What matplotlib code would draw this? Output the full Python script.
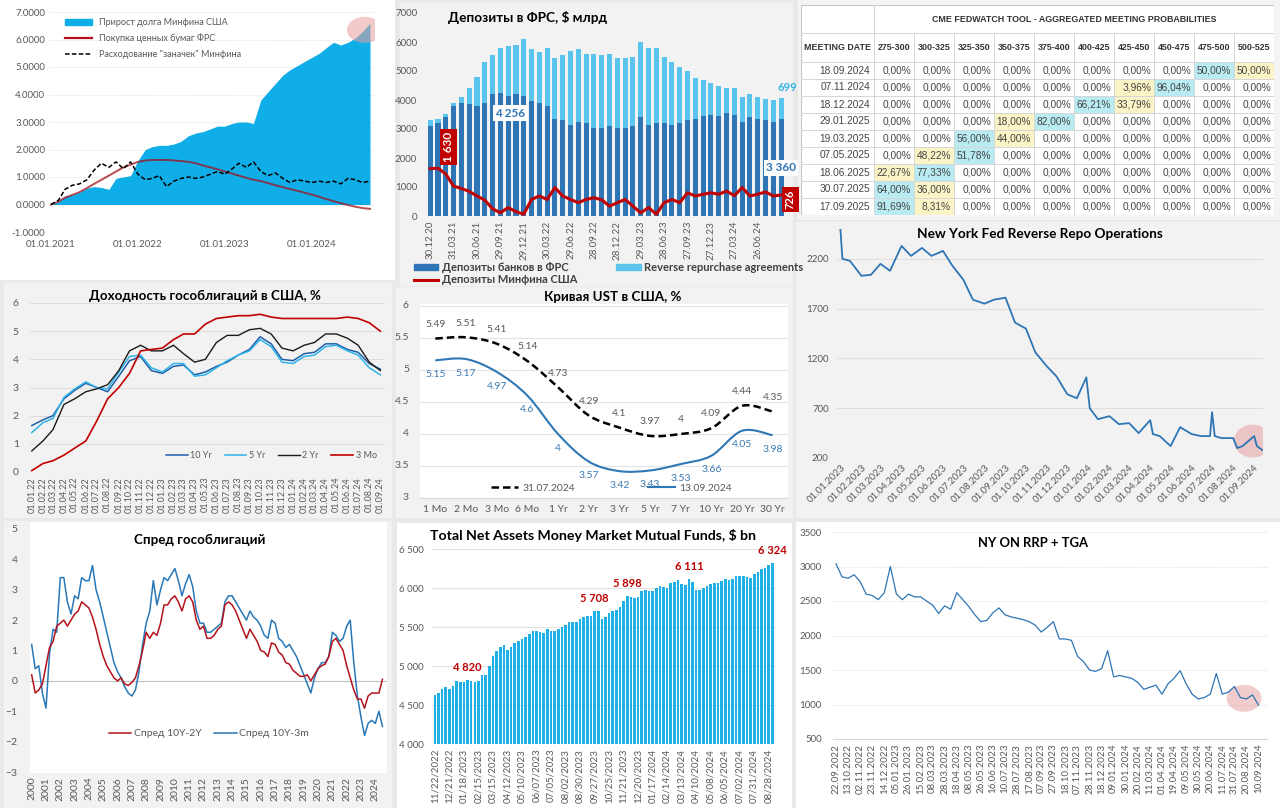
import numpy as np
import pandas as pd
import matplotlib
matplotlib.use('Agg')
import matplotlib.pyplot as plt
import matplotlib.dates as mdates
import matplotlib.transforms as mtransforms
from matplotlib.patches import Rectangle, Ellipse, Patch, PathPatch
from matplotlib.path import Path
from matplotlib.lines import Line2D
from matplotlib.ticker import FuncFormatter

# ---------------- data ----------------
# 1. debt / Fed purchases / TGA, monthly Jan 2021 - Sep 2024
debt_growth = [0.0, 0.1, 0.3, 0.35, 0.45, 0.6, 0.65, 0.62, 0.55, 0.95, 1.0, 1.05,
               1.6, 2.0, 2.1, 2.15, 2.15, 2.2, 2.3, 2.5, 2.6, 2.65, 2.75, 2.85,
               2.85, 2.95, 3.0, 3.0, 2.95, 3.8, 4.1, 4.4, 4.7, 4.9, 5.05, 5.2,
               5.35, 5.5, 5.7, 5.9, 5.8, 5.9, 6.05, 6.3, 6.6]
fed_purchases = [0.0, 0.1, 0.25, 0.35, 0.45, 0.6, 0.75, 0.9, 1.05, 1.2, 1.35, 1.45,
                 1.55, 1.6, 1.62, 1.62, 1.62, 1.6, 1.58, 1.55, 1.5, 1.42, 1.35, 1.28,
                 1.2, 1.12, 1.05, 0.97, 0.9, 0.85, 0.78, 0.7, 0.63, 0.56, 0.5, 0.43,
                 0.36, 0.28, 0.2, 0.12, 0.05, -0.02, -0.08, -0.13, -0.16]
tga_spending = [0.0, 0.15, 0.55, 0.7, 0.75, 0.9, 1.25, 1.5, 1.35, 1.55, 1.3, 1.55,
                1.1, 0.9, 0.95, 1.05, 0.65, 0.85, 0.95, 1.0, 0.95, 1.0, 1.1, 1.2,
                1.1, 1.3, 1.5, 1.35, 1.55, 1.2, 1.05, 1.15, 0.95, 0.8, 0.9, 0.85,
                0.8, 0.85, 0.8, 0.85, 0.75, 0.95, 0.9, 0.8, 0.85]

# 2. deposits at the Fed, monthly Dec 2020 - Sep 2024, $ bn
fed_labels = ['30.12.20', '31.03.21', '30.06.21', '29.09.21', '29.12.21', '30.03.22',
              '29.06.22', '28.09.22', '28.12.22', '29.03.23', '28.06.23', '27.09.23',
              '27.12.23', '27.03.24', '26.06.24']
bank_deposits = [3100, 3200, 3400, 3800, 3900, 3850, 3800, 3900, 4200, 4256, 4150, 4200, 4150,
                 3950, 3900, 3800, 3350, 3300, 3150, 3250, 3200, 3050, 3050, 3100, 3050,
                 3050, 3100, 3400, 3150, 3200, 3200, 3150, 3200, 3300, 3350, 3450, 3500,
                 3450, 3550, 3500, 3250, 3400, 3350, 3300, 3250, 3360]
rrp_deposits = [200, 150, 100, 100, 200, 550, 1000, 1400, 1350, 1550, 1700, 1700, 1950,
                1800, 1750, 2000, 2100, 2250, 2550, 2500, 2400, 2550, 2500, 2500, 2400,
                2400, 2400, 2600, 2650, 2600, 2300, 2150, 1950, 1700, 1400, 1250, 1100,
                1050, 850, 900, 850, 800, 750, 750, 750, 699]
tga_deposits = [1630, 1650, 1450, 1030, 950, 850, 690, 550, 250, 110, 290, 150, 60,
                570, 690, 570, 980, 690, 570, 460, 570, 630, 560, 340, 460,
                570, 340, 110, 290, 60, 460, 570, 460, 800, 690, 750, 800,
                750, 860, 700, 980, 690, 750, 830, 690, 726]

# 3. CME FedWatch
meeting_dates = ['18.09.2024', '07.11.2024', '18.12.2024', '29.01.2025', '19.03.2025',
                 '07.05.2025', '18.06.2025', '30.07.2025', '17.09.2025']
rate_ranges = ['275-300', '300-325', '325-350', '350-375', '375-400',
               '400-425', '425-450', '450-475', '475-500', '500-525']
probs = [
    [0, 0, 0, 0, 0, 0, 0, 0, 50.00, 50.00],
    [0, 0, 0, 0, 0, 0, 3.96, 96.04, 0, 0],
    [0, 0, 0, 0, 0, 66.21, 33.79, 0, 0, 0],
    [0, 0, 0, 18.00, 82.00, 0, 0, 0, 0, 0],
    [0, 0, 56.00, 44.00, 0, 0, 0, 0, 0, 0],
    [0, 48.22, 51.78, 0, 0, 0, 0, 0, 0, 0],
    [22.67, 77.33, 0, 0, 0, 0, 0, 0, 0, 0],
    [64.00, 36.00, 0, 0, 0, 0, 0, 0, 0, 0],
    [91.69, 8.31, 0, 0, 0, 0, 0, 0, 0, 0],
]

# 4. UST yields, monthly Jan 2022 - Sep 2024
yld_10y = [1.65, 1.85, 2.0, 2.6, 2.9, 3.15, 3.0, 2.85, 3.4, 3.95, 4.1, 3.6,
           3.5, 3.75, 3.8, 3.45, 3.55, 3.75, 3.9, 4.15, 4.35, 4.8, 4.55, 4.0,
           3.95, 4.2, 4.25, 4.55, 4.55, 4.35, 4.25, 3.85, 3.65]
yld_5y = [1.4, 1.75, 1.9, 2.65, 2.95, 3.2, 3.0, 2.95, 3.55, 4.1, 4.15, 3.7,
          3.55, 3.85, 3.85, 3.4, 3.45, 3.7, 3.95, 4.15, 4.3, 4.7, 4.45, 3.9,
          3.85, 4.1, 4.15, 4.45, 4.5, 4.3, 4.15, 3.7, 3.45]
yld_2y = [0.75, 1.1, 1.5, 2.4, 2.6, 2.85, 2.95, 3.1, 3.6, 4.3, 4.5, 4.3,
          4.3, 4.5, 4.2, 3.9, 4.0, 4.6, 4.85, 4.85, 5.05, 5.1, 4.9, 4.4,
          4.3, 4.5, 4.6, 4.9, 4.9, 4.75, 4.5, 3.9, 3.6]
yld_3m = [0.05, 0.3, 0.4, 0.6, 0.85, 1.1, 1.8, 2.6, 3.0, 3.5, 4.3, 4.35,
          4.4, 4.7, 4.9, 4.9, 5.25, 5.45, 5.5, 5.55, 5.55, 5.6, 5.5, 5.45,
          5.45, 5.45, 5.45, 5.45, 5.45, 5.5, 5.45, 5.3, 5.0]

# 5. UST curve
tenors = ['1 Mo', '2 Mo', '3 Mo', '6 Mo', '1 Yr', '2 Yr', '3 Yr', '5 Yr', '7 Yr', '10 Yr', '20 Yr', '30 Yr']
curve_jul = [5.49, 5.51, 5.41, 5.14, 4.73, 4.29, 4.1, 3.97, 4, 4.09, 4.44, 4.35]
curve_sep = [5.15, 5.17, 4.97, 4.6, 4, 3.57, 3.42, 3.43, 3.53, 3.66, 4.05, 3.98]
curve_ticks = [3, 3.5, 4, 4.5, 5, 5.5, 6]

# 6. NY Fed reverse repo, $ bn
rrp_dates = ['2023-01-01', '2023-01-04', '2023-01-15', '2023-02-01', '2023-02-15', '2023-03-01',
             '2023-03-15', '2023-04-01', '2023-04-15', '2023-05-01', '2023-05-15', '2023-06-01',
             '2023-06-15', '2023-07-01', '2023-07-15', '2023-08-01', '2023-08-15', '2023-09-01',
             '2023-09-15', '2023-10-01', '2023-10-15', '2023-11-01', '2023-11-15', '2023-12-01',
             '2023-12-15', '2023-12-29', '2024-01-03', '2024-01-15', '2024-02-01', '2024-02-15',
             '2024-03-01', '2024-03-15', '2024-04-01', '2024-04-05', '2024-04-15', '2024-05-01',
             '2024-05-15', '2024-06-01', '2024-06-15', '2024-06-28', '2024-07-01', '2024-07-05',
             '2024-07-15', '2024-08-01', '2024-08-07', '2024-08-15', '2024-09-01', '2024-09-05',
             '2024-09-13']
rrp_values = [2500, 2200, 2180, 2030, 2040, 2150, 2080, 2330, 2230, 2310, 2230, 2280,
              2130, 1990, 1790, 1750, 1790, 1810, 1560, 1500, 1260, 1120, 1020, 840,
              800, 1010, 700, 590, 620, 540, 550, 450, 580, 440, 420, 320,
              510, 440, 420, 420, 660, 420, 400, 400, 300, 320, 420, 320, 280]

# 7. spreads, quarterly 2000Q1 - 2024Q3
spread_10y2y = [0.2, -0.4, -0.3, -0.1, 0.5, 1.1, 1.3, 1.8, 1.9, 2.0, 1.8, 2.0,
                2.2, 2.3, 2.6, 2.5, 2.4, 2.1, 1.7, 1.2, 0.8, 0.5, 0.3, 0.1,
                0.0, 0.1, -0.1, -0.15, -0.05, 0.1, 0.5, 1.0, 1.6, 1.4, 1.6, 1.5,
                1.9, 2.5, 2.5, 2.7, 2.8, 2.6, 2.3, 2.7, 2.8, 2.6, 2.0, 1.7,
                1.8, 1.4, 1.4, 1.5, 1.7, 1.8, 2.5, 2.6, 2.5, 2.3, 2.0, 1.7,
                1.4, 1.7, 1.5, 1.3, 1.0, 0.95, 0.8, 1.25, 1.2, 0.95, 0.85, 0.6,
                0.55, 0.35, 0.25, 0.15, 0.15, 0.2, 0.0, 0.2, 0.4, 0.5, 0.55, 0.8,
                1.3, 1.4, 1.2, 1.0, 0.5, 0.1, -0.3, -0.6, -0.6, -0.9, -0.5, -0.4,
                -0.4, -0.4, 0.05]
spread_10y3m = [1.2, 0.4, 0.5, -0.4, -0.9, 0.9, 1.7, 1.6, 3.4, 3.4, 2.6, 2.2,
                2.8, 2.7, 3.4, 3.3, 3.3, 3.8, 3.0, 2.6, 2.1, 1.6, 1.1, 0.6,
                0.3, 0.1, -0.2, -0.4, -0.5, -0.3, 0.3, 1.2, 1.9, 2.3, 3.3, 2.5,
                3.0, 3.4, 3.3, 3.5, 3.7, 3.3, 2.8, 3.2, 3.5, 3.1, 2.3, 1.9,
                1.9, 1.6, 1.6, 1.7, 1.8, 1.9, 2.6, 2.8, 2.8, 2.6, 2.4, 2.2,
                2.0, 2.3, 2.1, 2.0, 1.8, 1.5, 1.4, 2.0, 1.9, 1.4, 1.3, 1.1,
                1.2, 1.0, 0.8, 0.5, 0.2, -0.1, -0.4, 0.1, 0.4, 0.6, 0.6, 0.8,
                1.6, 1.5, 1.3, 1.4, 1.8, 2.0, 0.6, -0.5, -1.2, -1.8, -1.4, -1.3,
                -1.4, -1.0, -1.5]

# 8. money market funds, weekly, $ bn
mmf_labels = ['11/22/2022', '12/21/2022', '01/18/2023', '02/15/2023', '03/15/2023', '04/12/2023',
              '05/10/2023', '06/07/2023', '07/05/2023', '08/02/2023', '08/30/2023', '09/27/2023',
              '10/25/2023', '11/21/2023', '12/20/2023', '01/17/2024', '02/14/2024', '03/13/2024',
              '04/10/2024', '05/08/2024', '06/05/2024', '07/02/2024', '07/31/2024', '08/28/2024']
mmf_assets = [4630, 4660, 4700, 4730, 4700, 4740, 4810, 4800, 4800, 4820, 4810, 4800,
              4810, 4880, 4880, 5000, 5130, 5190, 5240, 5270, 5200, 5250, 5300, 5320,
              5340, 5370, 5410, 5450, 5450, 5430, 5420, 5470, 5450, 5450, 5480, 5500,
              5520, 5560, 5570, 5560, 5600, 5630, 5640, 5640, 5708, 5700, 5600, 5630,
              5680, 5700, 5720, 5760, 5830, 5898, 5880, 5870, 5890, 5960, 5970, 5960,
              5960, 6000, 6020, 6010, 6000, 6060, 6080, 6100, 6050, 6040, 6111, 6080,
              5970, 5970, 6000, 6030, 6050, 6070, 6070, 6090, 6110, 6100, 6110, 6150,
              6150, 6150, 6140, 6130, 6180, 6210, 6240, 6260, 6290, 6324]
mmf_marked = [9, 44, 53, 70, 93]

# 9. RRP + TGA, values at each label and halfway between labels
tga_labels = ['22.09.2022', '13.10.2022', '02.11.2022', '23.11.2022', '14.12.2022', '05.01.2023',
              '26.01.2023', '15.02.2023', '08.03.2023', '28.03.2023', '18.04.2023', '08.05.2023',
              '26.05.2023', '16.06.2023', '10.07.2023', '28.07.2023', '17.08.2023', '07.09.2023',
              '27.09.2023', '18.10.2023', '07.11.2023', '28.11.2023', '18.12.2023', '09.01.2024',
              '30.01.2024', '20.02.2024', '11.03.2024', '01.04.2024', '19.04.2024', '09.05.2024',
              '30.05.2024', '20.06.2024', '11.07.2024', '31.07.2024', '20.08.2024', '10.09.2024']
rrp_tga = [3040, 2850, 2830, 2880, 2780, 2600, 2580, 2520, 2620, 3000, 2600, 2520,
           2600, 2560, 2560, 2500, 2440, 2320, 2430, 2380, 2620, 2520, 2420, 2300,
           2200, 2220, 2330, 2400, 2300, 2270, 2250, 2230, 2200, 2150, 2050, 2120,
           2200, 1950, 1950, 1930, 1700, 1620, 1500, 1480, 1520, 1780, 1400, 1420,
           1400, 1380, 1320, 1220, 1250, 1280, 1150, 1300, 1380, 1490, 1300, 1150,
           1080, 1100, 1150, 1450, 1150, 1180, 1260, 1100, 1080, 1140, 990]

# ---------------- layout helpers ----------------
W, H = 1280, 808
GREY = '#595959'
BLUE = '#2e75b6'
plt.rcParams['font.family'] = ['Lato', 'DejaVu Sans']

fig = plt.figure(figsize=(W / 100, H / 100), dpi=100, facecolor='#e9e9e9')


def box(x0, y0, x1, y1):
    return [x0 / W, 1 - y1 / H, (x1 - x0) / W, (y1 - y0) / H]


def panel(x0, y0, x1, y1, color):
    fig.patches.append(Rectangle((x0 / W, 1 - y1 / H), (x1 - x0) / W, (y1 - y0) / H,
                                 transform=fig.transFigure, facecolor=color,
                                 edgecolor='none', zorder=-5))


def title(x, y, s, size=10.0):
    fig.text(x / W, 1 - y / H, s, ha='center', va='center', fontsize=size,
             fontweight='bold', color='black')


def plain(ax, size=7):
    for s in ax.spines.values():
        s.set_visible(False)
    ax.tick_params(length=0, labelsize=size, labelcolor=GREY)


panel(0, 0, 395, 280, 'white')
panel(400, 3, 793, 286, '#f2f2f2')
panel(798, 0, 1280, 220, '#f4f4f4')
panel(4, 283, 392, 518, '#f2f2f2')
panel(396, 287, 793, 518, '#f2f2f2')
panel(796, 222, 1280, 518, '#f2f2f2')
panel(4, 521, 392, 808, '#f2f2f2')
panel(30, 522, 387, 773, 'white')
panel(397, 523, 792, 808, 'white')
panel(796, 522, 1280, 808, 'white')

# ---------------- 1. debt vs Fed ----------------
ax1 = fig.add_axes(box(50, 12, 375, 232))
m1 = pd.date_range('2021-01-01', periods=len(debt_growth), freq='MS')
ax1.fill_between(m1, 0, debt_growth, color='#10aee8', lw=0)
ax1.plot(m1, fed_purchases, color='#a0101a', lw=1.4, alpha=0.75)
ax1.plot(m1, tga_spending, color='black', lw=1.1, ls=(0, (3, 1.5)))
ax1.add_patch(Ellipse((mdates.date2num(pd.Timestamp('2024-08-10')), 6.35), 150, 0.95,
                      color='#e8a0a0', alpha=0.55, lw=0))
ax1.set_ylim(-1, 7)
ax1.set_xlim(pd.Timestamp('2020-12-28'), pd.Timestamp('2024-09-22'))
ax1.set_yticks(range(-1, 8))
ax1.yaxis.set_major_formatter(FuncFormatter(lambda v, p: f'{v:.4f}'))
ax1.set_xticks(pd.to_datetime(['2021-01-01', '2022-01-01', '2023-01-01', '2024-01-01']))
ax1.xaxis.set_major_formatter(mdates.DateFormatter('%d.%m.%Y'))
ax1.grid(axis='y', color='#d9d9d9', lw=0.7, ls=':')
ax1.set_axisbelow(True)
ax1.set_facecolor('none')
plain(ax1, 7)
ax1.tick_params(axis='x', pad=6)
h1 = [Patch(color='#10aee8'), Line2D([], [], color='#b2101c', lw=1.6),
      Line2D([], [], color='black', lw=1.1, ls=(0, (3, 1.5)))]
ax1.legend(h1, ['Прирост долга Минфина США', 'Покупка ценных бумаг ФРС',
                'Расходование "заначек" Минфина'],
           loc='upper left', bbox_to_anchor=(0.02, 1.01), frameon=False, fontsize=6.5,
           labelcolor=GREY, handlelength=3, handleheight=0.6, labelspacing=0.75)

# ---------------- 2. deposits at the Fed ----------------
ax2 = fig.add_axes(box(420, 13, 785, 216))
x2 = np.arange(len(bank_deposits))
ax2.bar(x2, bank_deposits, width=0.66, color=BLUE, lw=0)
ax2.bar(x2, rrp_deposits, bottom=bank_deposits, width=0.66, color='#5ac4ec', lw=0)
ax2.plot(x2, tga_deposits, color='#c00000', lw=2.2)
ax2.set_xlim(-1.3, 45.5)
ax2.set_ylim(0, 7000)
ax2.set_yticks(range(0, 7001, 1000))
ax2.set_xticks(x2[:len(fed_labels) * 3:3])
ax2.set_xticklabels(fed_labels, rotation=90)
ax2.set_facecolor('none')
plain(ax2, 7)
ax2.tick_params(axis='y', pad=2)
ax2.text(2.3, 2380, '1 630', rotation=90, ha='center', va='center', color='white',
         fontsize=8.5, fontweight='bold',
         bbox=dict(boxstyle='square,pad=0.25', fc='#c00000', ec='none'))
ax2.text(10.3, 3550, '4 256', ha='center', va='center', color=BLUE, fontsize=8.5,
         fontweight='bold', bbox=dict(boxstyle='square,pad=0.2', fc='white', ec='none'))
ax2.text(45.0, 1660, '3 360', ha='center', va='center', color=BLUE, fontsize=8.5,
         fontweight='bold', bbox=dict(boxstyle='square,pad=0.2', fc='white', ec='none'))
ax2.text(45.8, 4420, '699', ha='center', va='center', color='#2fb4e6', fontsize=8,
         fontweight='bold')
ax2.text(46.2, 560, '726', rotation=90, ha='center', va='center', color='white',
         fontsize=8, fontweight='bold', clip_on=False,
         bbox=dict(boxstyle='square,pad=0.25', fc='#c00000', ec='none'))
title(528, 17, 'Депозиты в ФРС, $ млрд', 9.8)
h2 = [Patch(color=BLUE), Line2D([], [], color='#c00000', lw=2.2), Patch(color='#5ac4ec')]
ax2.legend(h2, ['Депозиты банков в ФРС', 'Депозиты Минфина США',
                'Reverse repurchase agreements'],
           loc='upper left', bbox_to_anchor=(404 / W, 1 - 252 / H),
           bbox_transform=fig.transFigure, ncol=2, frameon=False,
           labelcolor='#404040', prop={'weight': 'bold', 'size': 8},
           handlelength=2.2, handleheight=0.5, columnspacing=3.5, labelspacing=0.1,
           handletextpad=0.3)

# ---------------- 3. FedWatch table ----------------
ax3 = fig.add_axes(box(801, 5, 1274, 215))
col_w = [73] + [40] * 10
edges = np.concatenate([[0], np.cumsum(col_w)])
total_w = edges[-1]
head1, head2, row_h = 28, 29, 17
total_h = head1 + head2 + row_h * len(meeting_dates)
ax3.set_xlim(0, total_w)
ax3.set_ylim(total_h, 0)
ax3.axis('off')
ax3.add_patch(Rectangle((0, 0), total_w, total_h, fc='white', ec='#c8c8c8', lw=0.8))
tfont = dict(family=['Liberation Sans', 'DejaVu Sans'])
ax3.text((edges[1] + total_w) / 2, head1 / 2,
         'CME FEDWATCH TOOL - AGGREGATED MEETING PROBABILITIES',
         ha='center', va='center', fontsize=6.4, fontweight='bold', color='#333333', **tfont)
ax3.text(edges[1] / 2, head1 + head2 / 2, 'MEETING DATE', ha='center', va='center',
         fontsize=6.4, fontweight='bold', color='#333333', **tfont)
for c, rng in enumerate(rate_ranges):
    ax3.text((edges[c + 1] + edges[c + 2]) / 2, head1 + head2 / 2, rng, ha='center',
             va='center', fontsize=6.4, fontweight='bold', color='#333333', **tfont)
for r, (d, row) in enumerate(zip(meeting_dates, probs)):
    y0 = head1 + head2 + r * row_h
    ax3.text(edges[1] - 4, y0 + row_h / 2, d, ha='right', va='center', fontsize=7.3,
             color='#444444', **tfont)
    top = int(np.argmax(row))
    for c, v in enumerate(row):
        if v > 0:
            fc = '#b8ebf2' if c == top else '#fbf4c6'
            ax3.add_patch(Rectangle((edges[c + 1], y0), col_w[c + 1], row_h, fc=fc, ec='none'))
        ax3.text(edges[c + 2] - 3, y0 + row_h / 2, f'{v:.2f}%'.replace('.', ','),
                 ha='right', va='center', fontsize=7.3, color='#444444', **tfont)
line_c = '#d6d6d6'
ax3.plot([0, total_w], [head1, head1], color=line_c, lw=0.7)
for r in range(len(meeting_dates) + 1):
    y = head1 + head2 + r * row_h
    ax3.plot([0, total_w], [y, y], color=line_c, lw=0.7)
ax3.plot([edges[1], edges[1]], [0, total_h], color=line_c, lw=0.7)
for e in edges[2:-1]:
    ax3.plot([e, e], [head1, total_h], color=line_c, lw=0.7)

# ---------------- 4. UST yields ----------------
ax4 = fig.add_axes(box(30, 303, 385, 472))
m4 = pd.date_range('2022-01-01', periods=len(yld_10y), freq='MS')
ax4.plot(m4, yld_10y, color='#1f5fa8', lw=1.1, label='10 Yr')
ax4.plot(m4, yld_5y, color='#2fb3e8', lw=1.1, label='5 Yr')
ax4.plot(m4, yld_2y, color='#1a1a1a', lw=1.0, label='2 Yr')
ax4.plot(m4, yld_3m, color='#c00000', lw=1.2, label='3 Mo')
ax4.set_ylim(0, 6)
ax4.set_xlim(pd.Timestamp('2021-12-27'), pd.Timestamp('2024-09-14'))
ax4.set_xticks(pd.date_range('2022-01-01', '2024-09-01', freq='MS'))
ax4.xaxis.set_major_formatter(mdates.DateFormatter('%d.%m.%y'))
ax4.tick_params(axis='x', rotation=90)
ax4.grid(axis='y', color='#dcdcdc', lw=0.7)
ax4.set_axisbelow(True)
ax4.set_facecolor('none')
plain(ax4, 6.5)
ax4.tick_params(axis='y', labelsize=7.5, pad=8)
ax4.legend(loc='lower right', bbox_to_anchor=(1.0, 0.02), ncol=4, frameon=False,
           fontsize=6.5, labelcolor=GREY, handlelength=2.4, columnspacing=1.4,
           handletextpad=0.3)
title(205, 296, 'Доходность гособлигаций в США, %', 9.6)

# ---------------- 5. UST curve ----------------
ax5 = fig.add_axes(box(420, 304, 788, 498))
x5 = np.arange(len(tenors))


def smooth_path(xs, ys):
    pts = np.column_stack([xs, ys]).astype(float)
    verts, codes = [pts[0]], [Path.MOVETO]
    n = len(pts)
    for i in range(n - 1):
        p0 = pts[i - 1] if i > 0 else pts[i]
        p1, p2 = pts[i], pts[i + 1]
        p3 = pts[i + 2] if i + 2 < n else pts[i + 1]
        verts += [p1 + (p2 - p0) / 6, p2 - (p3 - p1) / 6, p2]
        codes += [Path.CURVE4] * 3
    return Path(verts, codes)


ax5.add_patch(PathPatch(smooth_path(x5, curve_jul), fill=False, ec='black', lw=1.8,
                        ls=(0, (3, 1.6))))
ax5.add_patch(PathPatch(smooth_path(x5, curve_sep), fill=False, ec='#2f78b5', lw=1.5))
for xi, v in zip(x5, curve_jul):
    ax5.annotate(f'{v:g}', (xi, v), xytext=(0, 7), textcoords='offset points',
                 ha='center', va='bottom', fontsize=7.5, color=GREY)
for xi, v in zip(x5, curve_sep):
    ax5.annotate(f'{v:g}', (xi, v), xytext=(0, -7), textcoords='offset points',
                 ha='center', va='top', fontsize=7.5, color='#3a7ab3')
ax5.set_xlim(-0.5, len(tenors) - 0.5)
ax5.set_ylim(3, 6.03)
ax5.set_xticks(x5)
ax5.set_xticklabels(tenors)
ax5.set_yticks(curve_ticks)
ax5.set_yticklabels([])
ax5.grid(axis='y', color='#e3e3e3', lw=0.8)
ax5.set_axisbelow(True)
ax5.set_facecolor('white')
plain(ax5, 7.5)
ax5.tick_params(axis='x', pad=5)
ylab5 = mtransforms.blended_transform_factory(ax5.transAxes, ax5.transData)
for t in curve_ticks:
    ax5.text(-0.03, t, f'{t:g}', transform=ylab5, ha='right', va='center',
             fontsize=7.5, color=GREY, clip_on=False, zorder=20)
ax5.spines['bottom'].set_visible(True)
ax5.spines['bottom'].set_color('#d9d9d9')
h5 = [Line2D([], [], color='black', lw=1.8, ls=(0, (3, 1.6))),
      Line2D([], [], color='#2f78b5', lw=1.5)]
ax5.legend(h5, ['31.07.2024', '13.09.2024'], loc='lower center',
           bbox_to_anchor=(0.52, -0.02), ncol=2, frameon=False, fontsize=7.5,
           labelcolor=GREY, handlelength=2.6, columnspacing=7, handletextpad=0.4)
title(613, 297, 'Кривая UST в США, %', 9.6)

# ---------------- 6. NY Fed reverse repo ----------------
ax6 = fig.add_axes(box(837, 229, 1263, 458))
d6 = pd.to_datetime(rrp_dates)
ax6.plot(d6, rrp_values, color=BLUE, lw=1.3)
ax6.add_patch(Ellipse((mdates.date2num(pd.Timestamp('2024-08-30')), 370), 56, 330,
                      color='#e59a9a', alpha=0.5, lw=0))
ax6.set_ylim(200, 2500)
ax6.set_xlim(pd.Timestamp('2022-12-27'), pd.Timestamp('2024-09-14'))
ax6.set_yticks([200, 700, 1200, 1700, 2200])
ax6.set_xticks(pd.date_range('2023-01-01', '2024-09-01', freq='MS'))
ax6.xaxis.set_major_formatter(mdates.DateFormatter('%d.%m.%Y'))
for lab in ax6.get_xticklabels():
    lab.set_rotation(45)
    lab.set_ha('right')
    lab.set_rotation_mode('anchor')
ax6.grid(axis='y', color='#dedede', lw=0.7)
ax6.set_axisbelow(True)
ax6.set_facecolor('none')
plain(ax6, 7)
ax6.tick_params(axis='y', pad=6)
title(1040, 234, 'New York Fed Reverse Repo Operations', 9.8)

# ---------------- 7. spreads ----------------
ax7 = fig.add_axes(box(30, 529, 387, 772))
q7 = pd.date_range('2000-01-01', periods=len(spread_10y2y), freq='QS')
ax7.axhline(0, color='#bfbfbf', lw=0.8)
ax7.plot(q7, spread_10y3m, color='#2878b8', lw=1.1, label='Спред 10Y-3m')
ax7.plot(q7, spread_10y2y, color='#b5121b', lw=1.1, label='Спред 10Y-2Y')
ax7.set_ylim(-3, 5)
ax7.set_xlim(pd.Timestamp('1999-11-20'), pd.Timestamp('2024-10-25'))
ax7.set_yticks(range(-3, 6))
ax7.set_xticks(pd.date_range('2000-01-01', '2024-01-01', freq='YS'))
ax7.xaxis.set_major_formatter(mdates.DateFormatter('%Y'))
ax7.tick_params(axis='x', rotation=90)
ax7.set_facecolor('none')
plain(ax7, 7.5)
ax7.tick_params(axis='y', pad=9)
h7, l7 = ax7.get_legend_handles_labels()
ax7.legend(h7[::-1], l7[::-1], loc='lower center', bbox_to_anchor=(0.5, 0.1), ncol=2,
           frameon=False, fontsize=7.5, labelcolor=GREY, handlelength=2.2,
           columnspacing=1.2, handletextpad=0.2)
title(200, 540, 'Спред гособлигаций', 9.6)

# ---------------- 8. money market funds ----------------
ax8 = fig.add_axes(box(432, 549, 776, 744))
x8 = np.arange(len(mmf_assets))
ax8.bar(x8, mmf_assets, width=0.72, color='#1fb1e6', lw=0)
for i in mmf_marked:
    ax8.annotate(f'{mmf_assets[i]:,}'.replace(',', ' '), (x8[i], mmf_assets[i]),
                 xytext=(0, 5), textcoords='offset points', ha='center', va='bottom',
                 fontsize=8, fontweight='bold', color='#c00000')
ax8.set_xlim(-0.8, 94.0)
ax8.set_ylim(4000, 6500)
ax8.set_yticks(range(4000, 6501, 500))
ax8.yaxis.set_major_formatter(FuncFormatter(lambda v, p: f'{int(v):,}'.replace(',', ' ')))
ax8.set_xticks(x8[:len(mmf_labels) * 4:4])
ax8.set_xticklabels(mmf_labels, rotation=90)
ax8.grid(axis='y', color='#e3e3e3', lw=0.8)
ax8.set_axisbelow(True)
ax8.set_facecolor('none')
plain(ax8, 7)
ax8.tick_params(axis='y', pad=6)
title(593, 536, 'Total Net Assets Money Market Mutual Funds, $ bn', 10.2)

# ---------------- 9. RRP + TGA ----------------
ax9 = fig.add_axes(box(833, 532, 1267, 739))
x9 = np.arange(len(rrp_tga)) / 2
ax9.plot(x9, rrp_tga, color=BLUE, lw=0.9)
ax9.add_patch(Ellipse((33.8, 1090), 2.9, 390, color='#e59a9a', alpha=0.5, lw=0))
ax9.set_xlim(-0.25, 35.7)
ax9.set_ylim(500, 3500)
ax9.set_yticks(range(500, 3501, 500))
ax9.set_xticks(np.arange(len(tga_labels)))
ax9.set_xticklabels(tga_labels, rotation=90)
ax9.grid(axis='y', color='#d9d9d9', lw=0.7, ls=':')
ax9.set_axisbelow(True)
ax9.set_facecolor('none')
plain(ax9, 7)
ax9.spines['bottom'].set_visible(True)
ax9.spines['bottom'].set_color('#d9d9d9')
ax9.tick_params(axis='y', pad=8)
title(1033, 543, 'NY ON RRP + TGA', 9.4)

fig.savefig('out.png', dpi=100, facecolor=fig.get_facecolor())
